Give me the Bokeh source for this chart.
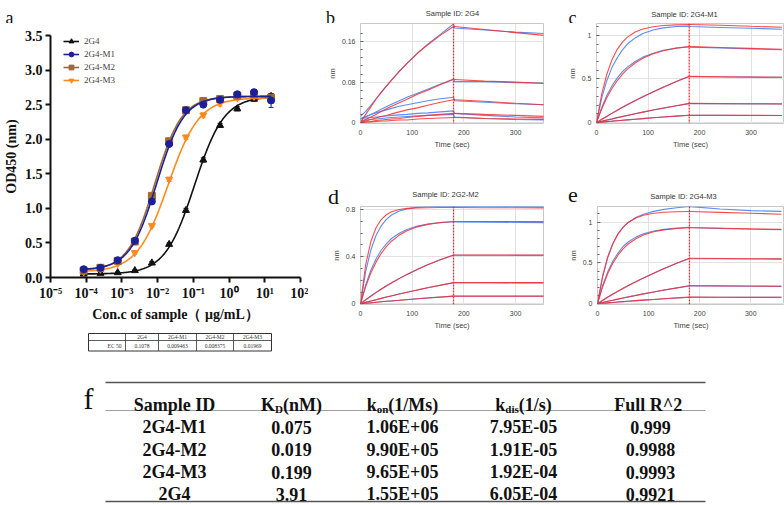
import numpy as np
from bokeh.plotting import figure
from bokeh.layouts import column, row
from bokeh.models import (Range1d, Span, Legend, LegendItem, FixedTicker, Whisker,
                          ColumnDataSource, TeeHead, PrintfTickFormatter)
from bokeh.embed import file_html
from bokeh.resources import INLINE
from bokeh.core.properties import value

# ---------------- Panel a : ELISA binding curves ----------------
CONC = [8.5e-5, 2.5e-4, 7.6e-4, 2.3e-3, 6.9e-3, 0.021, 0.062, 0.19, 0.56, 1.7, 5.0, 15.0]
SERIES = ["2G4", "2G4-M1", "2G4-M2", "2G4-M3"]
OD_2G4 = [0.05, 0.06, 0.07, 0.10, 0.21, 0.48, 0.97, 1.70, 2.20, 2.44, 2.58, 2.62]
OD_M1 = [0.12, 0.14, 0.25, 0.53, 1.10, 1.93, 2.42, 2.50, 2.57, 2.65, 2.68, 2.56]
OD_M2 = [0.10, 0.14, 0.24, 0.52, 1.18, 1.97, 2.42, 2.55, 2.58, 2.63, 2.65, 2.60]
OD_M3 = [0.08, 0.12, 0.20, 0.36, 0.75, 1.42, 2.03, 2.35, 2.52, 2.60, 2.62, 2.60]
ERR_2G4 = [0.01, 0.01, 0.01, 0.01, 0.02, 0.02, 0.03, 0.03, 0.03, 0.03, 0.03, 0.04]
ERR_M1 = [0.02, 0.01, 0.02, 0.02, 0.03, 0.03, 0.03, 0.04, 0.04, 0.03, 0.04, 0.10]
ERR_M2 = [0.01, 0.01, 0.01, 0.02, 0.03, 0.04, 0.03, 0.05, 0.05, 0.03, 0.05, 0.04]
ERR_M3 = [0.01, 0.01, 0.01, 0.02, 0.02, 0.03, 0.03, 0.03, 0.04, 0.03, 0.03, 0.03]
EC50 = [0.1078, 0.009463, 0.008375, 0.01969]
EC50_TEXT = ["0.1078", "0.009463", "0.008375", "0.01969"]
FIT_BOTTOM = [0.05, 0.11, 0.10, 0.08]
FIT_TOP = [2.62, 2.62, 2.62, 2.60]
FIT_HILL = [1.05, 1.15, 1.15, 1.0]
DECADES = [1e-5, 1e-4, 1e-3, 1e-2, 1e-1, 1e0, 1e1, 1e2]
DECADE_LABELS = ["10⁻⁵", "10⁻⁴", "10⁻³", "10⁻²", "10⁻¹", "10⁰", "10¹", "10²"]
OD_TICKS = [0, 0.5, 1.0, 1.5, 2.0, 2.5, 3.0, 3.5]

# ---------------- Panels b-e : BLI sensorgrams ----------------
T = [0, 10, 20, 30, 40, 50, 60, 75, 90, 110, 130, 155, 180, 182, 240, 300, 360]
TIME_TICKS = [0, 100, 200, 300]

B_RED = [
    [0, 0.016, 0.031, 0.046, 0.059, 0.072, 0.084, 0.101, 0.117, 0.137, 0.154, 0.173, 0.190, 0.190, 0.184, 0.178, 0.172],
    [0, 0.006, 0.011, 0.016, 0.022, 0.027, 0.032, 0.039, 0.046, 0.056, 0.064, 0.075, 0.085, 0.085, 0.082, 0.080, 0.077],
    [0, 0.003, 0.006, 0.009, 0.012, 0.014, 0.017, 0.021, 0.025, 0.029, 0.034, 0.040, 0.045, 0.045, 0.042, 0.038, 0.035],
    [0, 0.001, 0.002, 0.004, 0.005, 0.006, 0.007, 0.008, 0.010, 0.012, 0.014, 0.016, 0.018, 0.018, 0.016, 0.014, 0.012],
    [0, 0.001, 0.001, 0.002, 0.003, 0.003, 0.004, 0.005, 0.005, 0.007, 0.008, 0.009, 0.010, 0.010, 0.008, 0.007, 0.006],
]
B_BLUE = [
    [0.012, 0.022, 0.034, 0.047, 0.060, 0.072, 0.084, 0.101, 0.117, 0.137, 0.155, 0.175, 0.195, 0.187, 0.183, 0.179, 0.176],
    [0.006, 0.011, 0.016, 0.021, 0.026, 0.031, 0.036, 0.043, 0.050, 0.058, 0.066, 0.076, 0.086, 0.081, 0.081, 0.079, 0.078],
    [0.008, 0.012, 0.016, 0.019, 0.022, 0.025, 0.028, 0.032, 0.035, 0.039, 0.043, 0.047, 0.050, 0.043, 0.040, 0.037, 0.035],
    [0.008, 0.009, 0.010, 0.011, 0.012, 0.013, 0.014, 0.015, 0.016, 0.018, 0.019, 0.021, 0.023, 0.018, 0.014, 0.011, 0.009],
    [0.004, 0.005, 0.006, 0.007, 0.008, 0.009, 0.010, 0.011, 0.012, 0.013, 0.014, 0.015, 0.016, 0.011, 0.008, 0.006, 0.005],
]
C_RED = [
    [0, 0.324, 0.554, 0.719, 0.836, 0.919, 0.979, 1.037, 1.072, 1.098, 1.112, 1.119, 1.123, 1.123, 1.115, 1.103, 1.092],
    [0, 0.156, 0.284, 0.391, 0.479, 0.552, 0.612, 0.683, 0.737, 0.789, 0.823, 0.853, 0.870, 0.870, 0.860, 0.850, 0.840],
    [0, 0.036, 0.071, 0.106, 0.139, 0.172, 0.204, 0.250, 0.295, 0.352, 0.406, 0.470, 0.530, 0.530, 0.525, 0.522, 0.520],
    [0, 0.014, 0.029, 0.042, 0.056, 0.069, 0.082, 0.101, 0.120, 0.144, 0.167, 0.194, 0.220, 0.220, 0.218, 0.216, 0.215],
    [0, 0.006, 0.011, 0.016, 0.022, 0.027, 0.032, 0.039, 0.046, 0.056, 0.064, 0.075, 0.085, 0.085, 0.084, 0.083, 0.082],
]
C_BLUE = [
    [0, 0.28, 0.48, 0.63, 0.74, 0.83, 0.90, 0.97, 1.02, 1.06, 1.085, 1.10, 1.105, 1.10, 1.09, 1.08, 1.07],
    [0, 0.17, 0.31, 0.42, 0.51, 0.58, 0.635, 0.70, 0.75, 0.795, 0.828, 0.855, 0.868, 0.865, 0.855, 0.845, 0.835],
    [0, 0.038, 0.074, 0.109, 0.142, 0.175, 0.207, 0.253, 0.297, 0.354, 0.407, 0.470, 0.528, 0.526, 0.523, 0.521, 0.519],
    [0, 0.015, 0.030, 0.043, 0.057, 0.070, 0.083, 0.102, 0.120, 0.144, 0.166, 0.193, 0.218, 0.217, 0.216, 0.215, 0.214],
    [0, 0.006, 0.012, 0.017, 0.022, 0.027, 0.032, 0.039, 0.046, 0.055, 0.064, 0.074, 0.084, 0.083, 0.083, 0.082, 0.081],
]
D_RED = [
    [0, 0.331, 0.529, 0.646, 0.716, 0.757, 0.782, 0.801, 0.811, 0.815, 0.817, 0.818, 0.818, 0.818, 0.817, 0.816, 0.815],
    [0, 0.146, 0.262, 0.354, 0.428, 0.486, 0.532, 0.584, 0.621, 0.654, 0.675, 0.691, 0.700, 0.700, 0.700, 0.699, 0.698],
    [0, 0.033, 0.064, 0.095, 0.123, 0.151, 0.177, 0.214, 0.249, 0.292, 0.332, 0.376, 0.415, 0.415, 0.415, 0.414, 0.414],
    [0, 0.012, 0.023, 0.035, 0.046, 0.057, 0.067, 0.083, 0.098, 0.118, 0.136, 0.159, 0.180, 0.180, 0.180, 0.180, 0.180],
    [0, 0.004, 0.008, 0.013, 0.017, 0.021, 0.024, 0.030, 0.035, 0.043, 0.049, 0.057, 0.065, 0.065, 0.065, 0.065, 0.065],
]
D_BLUE = [
    [0, 0.274, 0.457, 0.580, 0.662, 0.718, 0.755, 0.789, 0.807, 0.820, 0.825, 0.828, 0.829, 0.828, 0.828, 0.826, 0.824],
    [0, 0.160, 0.285, 0.380, 0.455, 0.510, 0.555, 0.600, 0.632, 0.660, 0.678, 0.690, 0.697, 0.696, 0.694, 0.692, 0.690],
    [0, 0.034, 0.066, 0.097, 0.125, 0.153, 0.179, 0.216, 0.250, 0.293, 0.332, 0.375, 0.413, 0.413, 0.413, 0.412, 0.412],
    [0, 0.012, 0.024, 0.035, 0.046, 0.057, 0.068, 0.083, 0.098, 0.117, 0.136, 0.158, 0.179, 0.179, 0.179, 0.178, 0.178],
    [0, 0.004, 0.009, 0.013, 0.017, 0.021, 0.025, 0.030, 0.036, 0.043, 0.050, 0.058, 0.065, 0.064, 0.064, 0.064, 0.064],
]
E_RED = [
    [0, 0.336, 0.572, 0.738, 0.855, 0.937, 0.994, 1.050, 1.083, 1.107, 1.119, 1.125, 1.128, 1.128, 1.118, 1.107, 1.096],
    [0, 0.208, 0.370, 0.496, 0.594, 0.671, 0.731, 0.796, 0.841, 0.880, 0.904, 0.921, 0.930, 0.930, 0.924, 0.917, 0.910],
    [0, 0.039, 0.078, 0.115, 0.151, 0.186, 0.219, 0.268, 0.315, 0.374, 0.430, 0.496, 0.556, 0.556, 0.553, 0.551, 0.549],
    [0, 0.014, 0.029, 0.042, 0.056, 0.069, 0.082, 0.101, 0.120, 0.144, 0.167, 0.194, 0.220, 0.220, 0.218, 0.216, 0.214],
    [0, 0.005, 0.010, 0.015, 0.020, 0.025, 0.030, 0.037, 0.044, 0.052, 0.061, 0.071, 0.080, 0.080, 0.079, 0.078, 0.078],
]
E_BLUE = [
    [0, 0.330, 0.565, 0.730, 0.850, 0.935, 0.995, 1.055, 1.095, 1.130, 1.155, 1.175, 1.190, 1.188, 1.160, 1.140, 1.130],
    [0, 0.220, 0.390, 0.520, 0.620, 0.700, 0.755, 0.815, 0.855, 0.890, 0.910, 0.925, 0.935, 0.932, 0.922, 0.912, 0.905],
    [0, 0.041, 0.081, 0.118, 0.154, 0.189, 0.222, 0.270, 0.316, 0.374, 0.429, 0.494, 0.553, 0.552, 0.550, 0.548, 0.546],
    [0, 0.015, 0.030, 0.043, 0.057, 0.070, 0.083, 0.102, 0.120, 0.144, 0.166, 0.193, 0.218, 0.218, 0.216, 0.214, 0.212],
    [0, 0.005, 0.010, 0.015, 0.020, 0.025, 0.030, 0.037, 0.044, 0.052, 0.060, 0.070, 0.079, 0.079, 0.078, 0.077, 0.077],
]

# ---------------- Panel f : kinetics table ----------------
SAMPLE_IDS = ["2G4-M1", "2G4-M2", "2G4-M3", "2G4"]
KD = ["0.075", "0.019", "0.199", "3.91"]
KON = ["1.06E+06", "9.90E+05", "9.65E+05", "1.55E+05"]
KDIS = ["7.95E-05", "1.91E-05", "1.92E-04", "6.05E-04"]
R2 = ["0.999", "0.9988", "0.9993", "0.9921"]
HEADERS = [("Sample ID", "", ""), ("K", "D", "(nM)"), ("k", "on", "(1/Ms)"),
           ("k", "dis", "(1/s)"), ("Full  R^2", "", "")]

SERIF = value("Liberation Serif")
SANS = value("Liberation Sans")


def blank(width, height):
    """figure whose frame is the whole canvas; data units = pixels from top-left"""
    h = figure(width=width, height=height, x_range=Range1d(0, width), y_range=Range1d(height, 0),
               output_backend="svg", toolbar_location=None, min_border=0,
               x_axis_location=None, y_axis_location=None)
    h.grid.visible = False
    h.outline_line_color = None
    return h


def letter(fig, x, y, t, size="22px"):
    fig.text(x=[x], y=[y], text=[t], text_font=SERIF, text_font_size=size,
             text_align="center", text_baseline="alphabetic", text_color="#111111")


def title(fig, x, y, t):
    fig.text(x=[x], y=[y], text=[t], text_font=SANS, text_font_size="7.5px",
             text_align="center", text_baseline="middle", text_color="#333333")


# ======================= top header (letters a, b, c + titles) =======================
htop = blank(784, 23)
letter(htop, 9, 17.5, "a", "18px")
letter(htop, 330, 17.5, "b", "18px")
title(htop, 452, 13, "Sample ID: 2G4")
letter(htop, 572, 17.5, "c", "18px")
title(htop, 684, 14, "Sample ID: 2G4-M1")

# ======================= Panel a =======================
COLORS = ["#111111", "#1c1f9a", "#a06a2c", "#ff8a1c"]
MARKERS = ["triangle", "circle", "square", "inverted_triangle"]
ODS = [OD_2G4, OD_M1, OD_M2, OD_M3]
ERRS = [ERR_2G4, ERR_M1, ERR_M2, ERR_M3]

pa = figure(width=308, height=309, x_axis_type="log",
            x_range=Range1d(1e-5, 1e2), y_range=Range1d(0, 3.5),
            output_backend="svg", toolbar_location=None,
            min_border_left=50, min_border_right=8, min_border_top=12, min_border_bottom=55)
pa.outline_line_color = None
pa.grid.visible = False
pa.xaxis.ticker = FixedTicker(ticks=DECADES, minor_ticks=[])
pa.xaxis.major_label_overrides = {d: l for d, l in zip(DECADES, DECADE_LABELS)}
pa.yaxis.ticker = FixedTicker(ticks=OD_TICKS, minor_ticks=[])
pa.yaxis.formatter = PrintfTickFormatter(format="%.1f")
pa.xaxis.axis_label = "Con.c of sample（ μg/mL）"
pa.yaxis.axis_label = "OD450 (nm)"
for ax in (pa.xaxis[0], pa.yaxis[0]):
    ax.axis_line_width = 2
    ax.axis_line_color = "#111111"
    ax.major_tick_line_width = 2
    ax.major_tick_line_color = "#111111"
    ax.major_tick_out = 5
    ax.major_tick_in = 0
    ax.minor_tick_line_color = None
    ax.minor_tick_out = 0
    ax.major_label_text_font = "Liberation Serif"
    ax.major_label_text_font_style = "bold"
    ax.major_label_text_font_size = "14px"
    ax.major_label_text_color = "#111111"
    ax.major_label_standoff = 3
    ax.axis_label_text_font = "Liberation Serif"
    ax.axis_label_text_font_style = "bold"
    ax.axis_label_text_font_size = "14px"
    ax.axis_label_text_color = "#111111"
    ax.axis_label_standoff = 3

xfit = np.logspace(np.log10(CONC[0]), np.log10(CONC[-1]), 200)
legend_items = {}
for i in [0, 3, 2, 1]:
    yfit = FIT_BOTTOM[i] + (FIT_TOP[i] - FIT_BOTTOM[i]) / (1 + (EC50[i] / xfit) ** FIT_HILL[i])
    lr = pa.line(xfit, yfit, line_color=COLORS[i], line_width=1.6)
    src = ColumnDataSource(dict(x=CONC, y=ODS[i],
                                up=[v + e for v, e in zip(ODS[i], ERRS[i])],
                                lo=[v - e for v, e in zip(ODS[i], ERRS[i])]))
    pa.add_layout(Whisker(source=src, base="x", upper="up", lower="lo",
                          line_color=COLORS[i], line_width=1,
                          upper_head=TeeHead(size=5, line_color=COLORS[i]),
                          lower_head=TeeHead(size=5, line_color=COLORS[i])))
    sr = pa.scatter("x", "y", source=src, marker=MARKERS[i], size=7,
                    fill_color=COLORS[i], line_color=COLORS[i])
    legend_items[i] = LegendItem(label=SERIES[i], renderers=[lr, sr])

legend = Legend(items=[legend_items[i] for i in range(4)], location=(13, 191),
                glyph_width=16, glyph_height=12, label_height=12, spacing=1,
                label_standoff=5, padding=0, margin=0,
                label_text_font="Liberation Serif", label_text_font_size="9px",
                background_fill_alpha=0, border_line_alpha=0)
pa.add_layout(legend)


# ======================= Panels b-e =======================
def kinetic(width, height, borders, xr, yr, yticks, ylabels, yminor, red, blue):
    bl, br, bt, bb = borders
    p = figure(width=width, height=height, x_range=Range1d(*xr), y_range=Range1d(*yr),
               output_backend="svg", toolbar_location=None,
               min_border_left=bl, min_border_right=br, min_border_top=bt, min_border_bottom=bb)
    p.outline_line_color = "#c8c8c8"
    p.xaxis.ticker = FixedTicker(ticks=TIME_TICKS, minor_ticks=[])
    p.yaxis.ticker = FixedTicker(ticks=yticks, minor_ticks=yminor)
    p.xgrid.ticker = FixedTicker(ticks=TIME_TICKS, minor_ticks=[])
    p.ygrid.ticker = FixedTicker(ticks=yticks, minor_ticks=[])
    p.grid.grid_line_color = "#e2e2e2"
    p.yaxis.major_label_overrides = {t: l for t, l in zip(yticks, ylabels)}
    for ax in (p.xaxis[0], p.yaxis[0]):
        ax.axis_line_color = None
        ax.major_label_text_font = "Liberation Sans"
        ax.major_label_text_font_size = "7px"
        ax.major_label_text_color = "#444444"
        ax.axis_label_text_font = "Liberation Sans"
        ax.axis_label_text_font_size = "7.5px"
        ax.axis_label_text_font_style = "normal"
        ax.axis_label_text_color = "#444444"
        ax.axis_label_standoff = 2
    p.xaxis.major_label_standoff = 6
    p.yaxis.major_label_standoff = 5
    p.xaxis.major_tick_line_color = None
    p.xaxis.minor_tick_line_color = None
    p.xaxis.major_tick_out = 0
    p.xaxis.major_tick_in = 0
    p.xaxis.minor_tick_out = 0
    p.xaxis.minor_tick_in = 0
    p.yaxis.major_tick_in = 3
    p.yaxis.major_tick_out = 0
    p.yaxis.minor_tick_in = 2
    p.yaxis.minor_tick_out = 0
    p.yaxis.major_tick_line_color = "#666666"
    p.yaxis.minor_tick_line_color = "#666666"
    p.xaxis.axis_label = "Time (sec)"
    p.yaxis.axis_label = "nm"
    for ys in blue:
        p.line(T, ys, line_color="#5a8ef2", line_width=1.1)
    for ys in red:
        p.line(T, ys, line_color="#ff2b2b", line_width=1.1, line_alpha=0.85)
    p.add_layout(Span(location=180, dimension="height", line_color="#ff2020",
                      line_width=1.2, line_dash="2 1"))
    return p


pb = kinetic(247, 147, (52, 12, 0, 47), (0, 354), (-0.002, 0.196),
             [0, 0.08, 0.16], ["0", "0.08", "0.16"], list(np.arange(0.016, 0.19, 0.016)),
             B_RED, B_BLUE)
pc = kinetic(229, 147, (41, 0, 0, 47), (0, 365), (-0.01, 1.135),
             [0, 0.5, 1], ["0", "0.5", "1"], list(np.arange(0.1, 1.11, 0.1)),
             C_RED, C_BLUE)
pd_ = kinetic(247, 126, (52, 12, 0, 26), (0, 354), (-0.006, 0.827),
              [0, 0.4, 0.8], ["0", "0.4", "0.8"], list(np.arange(0.1, 0.81, 0.1)),
              D_RED, D_BLUE)
pe = kinetic(229, 126, (42, 0, 0, 26), (0, 366), (-0.01, 1.19),
             [0, 0.5, 1], ["0", "0.5", "1"], list(np.arange(0.1, 1.11, 0.1)),
             E_RED, E_BLUE)

hde = blank(476, 36)
letter(hde, 25, 26, "d", "22px")
title(hde, 137, 24, "Sample ID: 2G2-M2")
letter(hde, 264.5, 24, "e", "22px")
title(hde, 375, 25.5, "Sample ID: 2G4-M3")

# ======================= Panel f + EC50 table =======================
pf = blank(784, 173)

EC_COLS = [88, 125, 158, 196, 233, 271]
pf.quad(left=EC_COLS[0], right=EC_COLS[-1], top=1, bottom=18.5, fill_color=None,
        line_color="#333333", line_width=1)
pf.segment(x0=EC_COLS[1:-1], y0=[1] * 4, x1=EC_COLS[1:-1], y1=[18.5] * 4,
           line_color="#333333", line_width=0.8)
pf.segment(x0=[EC_COLS[0]], y0=[8], x1=[EC_COLS[-1]], y1=[8], line_color="#333333", line_width=0.8)
ec_cx = [(a + b) / 2 for a, b in zip(EC_COLS[1:-1], EC_COLS[2:])]
pf.text(x=ec_cx, y=[4.6] * 4, text=SERIES, text_font=SERIF, text_font_size="5.5px",
        text_color="#333333", text_align="center", text_baseline="middle")
pf.text(x=ec_cx, y=[13.3] * 4, text=EC50_TEXT, text_font=SERIF, text_font_size="5.5px",
        text_color="#333333", text_align="center", text_baseline="middle")
pf.text(x=[EC_COLS[1] - 4], y=[13.3], text=["EC 50"], text_font=SERIF, text_font_size="5.5px",
        text_color="#333333", text_align="right", text_baseline="middle")

COL_X = [174, 291, 402, 523, 650]
LINE_X0, LINE_X1 = 105, 705
TOP_LINE, HEAD_LINE, BOTTOM_LINE = 50, 78, 169
HEAD_BASE = 72
ROW_BASE = [94.5, 117, 139.5, 161.5]
FS, FS_SUB = 18, 11
W = {'K': 0.778, 'D': 0.722, 'k': 0.556, 'o': 0.5, 'n': 0.556, 'd': 0.556, 'i': 0.278,
     's': 0.389, '(': 0.333, ')': 0.333, 'N': 0.722, 'M': 0.944, '1': 0.5, '/': 0.278}


def tw(s, size):
    return sum(W.get(ch, 0.5) for ch in s) * size


pf.segment(x0=[LINE_X0, LINE_X0], y0=[TOP_LINE, BOTTOM_LINE], x1=[LINE_X1, LINE_X1],
           y1=[TOP_LINE, BOTTOM_LINE], line_color="#555555", line_width=1.6)
pf.segment(x0=[LINE_X0], y0=[HEAD_LINE], x1=[LINE_X1], y1=[HEAD_LINE],
           line_color="#888888", line_width=0.8)

for cx, (main, sub, rest) in zip(COL_X, HEADERS):
    common = dict(text_font=SERIF, text_font_style="bold", text_baseline="alphabetic",
                  text_color="#111111")
    if not sub:
        pf.text(x=[cx], y=[HEAD_BASE], text=[main], text_font_size=f"{FS}px",
                text_align="center", **common)
    else:
        total = tw(main, FS) + tw(sub, FS_SUB) + tw(rest, FS)
        x0 = cx - total / 2
        pf.text(x=[x0], y=[HEAD_BASE], text=[main], text_font_size=f"{FS}px",
                text_align="left", **common)
        pf.text(x=[x0 + tw(main, FS)], y=[HEAD_BASE + 4.5], text=[sub],
                text_font_size=f"{FS_SUB}px", text_align="left", **common)
        pf.text(x=[x0 + tw(main, FS) + tw(sub, FS_SUB)], y=[HEAD_BASE], text=[rest],
                text_font_size=f"{FS}px", text_align="left", **common)

for cx, col in zip(COL_X, [SAMPLE_IDS, KD, KON, KDIS, R2]):
    pf.text(x=[cx] * len(col), y=ROW_BASE, text=col, text_font=SERIF, text_font_style="bold",
            text_font_size=f"{FS}px", text_align="center", text_baseline="alphabetic",
            text_color="#111111")

letter(pf, 88, 66, "f", "30px")

layout = column(htop, row(pa, column(row(pb, pc), hde, row(pd_, pe))), pf)
open("out.html", "w").write(file_html(layout, INLINE))
